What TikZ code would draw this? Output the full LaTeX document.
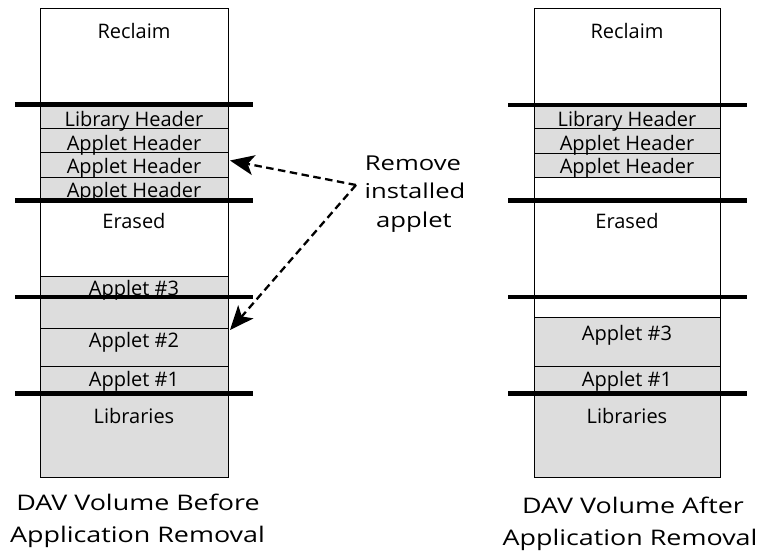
\documentclass[tikz,border=0pt]{standalone}
\usepackage{graphicx}
\usepackage{fontspec}
\setmainfont{Open Sans}
\usetikzlibrary{arrows.meta}
\definecolor{cellgray}{RGB}{221,221,221}
\newcommand{\wide}[1]{\scalebox{1.25}[1]{#1}}
\tikzset{
  outerbox/.style={draw=black, line width=1pt, fill=white},
  cell/.style={draw=black, line width=0.8pt, fill=cellgray},
  bar/.style={line width=4.5pt, black},
  lbl/.style={font=\fontsize{20}{22}\selectfont, inner sep=0pt, anchor=base},
  capt/.style={font=\fontsize{21.5}{32}\selectfont, inner sep=0pt, anchor=base},
  note/.style={font=\fontsize{20.5}{28.5}\selectfont, inner sep=0pt, anchor=base},
  arr/.style={line width=2.3pt, dash pattern=on 7.5pt off 4.5pt, -{Stealth[length=24pt,width=20pt,inset=6pt]}}
}
\begin{document}
\begin{tikzpicture}[x=1pt,y=-1pt]
\useasboundingbox (0,0) rectangle (760,550);
% ---------------- left column ----------------
\draw[outerbox] (40,8.5) rectangle (228,477);
\draw[cell] (40,104.5) rectangle (228,128);
\draw[cell] (40,128) rectangle (228,152.7);
\draw[cell] (40,152.7) rectangle (228,177.3);
\draw[cell] (40,177.3) rectangle (228,200.7);
\draw[cell] (40,276.7) rectangle (228,328.3);
\draw[cell] (40,328.3) rectangle (228,366.7);
\draw[cell] (40,366.7) rectangle (228,393.3);
\draw[cell] (40,393.3) rectangle (228,477);
\node[lbl] (lrec) at (134,38.5) {Reclaim};
\node[lbl] (llh) at (134,126.5) {Library Header};
\node[lbl] (lah1) at (134,150) {Applet Header};
\node[lbl] (lah2) at (134,173.5) {Applet Header};
\node[lbl] (lah3) at (134,197) {Applet Header};
\node[lbl] (lera) at (134,228.5) {Erased};
\node[lbl] (la3) at (134,295) {Applet \#3};
\node[lbl] (la2) at (134,347.5) {Applet \#2};
\node[lbl] (la1) at (134,386.5) {Applet \#1};
\node[lbl] (llib) at (134,423) {Libraries};
\foreach \y in {104.5,200.7,297,393.3} \draw[bar] (15,\y) -- (253,\y);
\node[capt] (lcap1) at (138,510.5) {\wide{DAV Volume Before}};
\node[capt] (lcap2) at (137.5,542.5) {\wide{Application Removal}};
% ---------------- right column ----------------
\draw[outerbox] (534,8.5) rectangle (720.7,477);
\draw[cell] (534,105) rectangle (720.7,128);
\draw[cell] (534,128) rectangle (720.7,153);
\draw[cell] (534,153) rectangle (720.7,177.5);
\draw[cell] (534,317.7) rectangle (720.7,366.7);
\draw[cell] (534,366.7) rectangle (720.7,393.3);
\draw[cell] (534,393.3) rectangle (720.7,477);
\node[lbl] (rrec) at (627,38) {Reclaim};
\node[lbl] (rlh) at (627,126) {Library Header};
\node[lbl] (rah1) at (627,150) {Applet Header};
\node[lbl] (rah2) at (627,173) {Applet Header};
\node[lbl] (rera) at (627,228.5) {Erased};
\node[lbl] (ra3) at (627,340.5) {Applet \#3};
\node[lbl] (ra1) at (627,386.5) {Applet \#1};
\node[lbl] (rlib) at (627,423) {Libraries};
\foreach \y in {105,200.7,297,393.3} \draw[bar] (508,\y) -- (747,\y);
\node[capt] (rcap1) at (633,513) {\wide{DAV Volume After}};
\node[capt] (rcap2) at (630,545) {\wide{Application Removal}};
% ---------------- annotation ----------------
\node[note] (rm1) at (413,170) {\wide{Remove}};
\node[note] (rm2) at (415,198.5) {\wide{installed}};
\node[note] (rm3) at (414,227) {\wide{applet}};
\coordinate (src) at (356,185);
\coordinate (tip1) at (230,160.5);
\coordinate (tip2) at (230,330);
\draw[arr] (src) -- (tip1);
\draw[arr] (src) -- (tip2);
\end{tikzpicture}
\end{document}
